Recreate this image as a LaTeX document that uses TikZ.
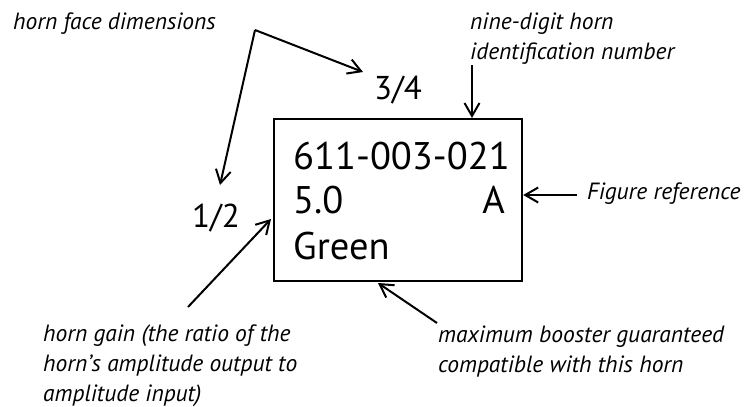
\documentclass[tikz,border=0pt]{standalone}
\usepackage{fontspec}
\setmainfont{PT Sans}
\usetikzlibrary{arrows.meta}
\begin{document}
\begin{tikzpicture}[x=1pt,y=-1pt,
  lbl/.style={inner sep=0pt,anchor=base west,align=left,
    font=\fontsize{23.5}{30}\selectfont\itshape},
  big/.style={inner sep=0pt,anchor=base west,font=\fontsize{38.5}{46}\selectfont},
  frac/.style={inner sep=0pt,anchor=base west,font=\fontsize{33}{40}\selectfont},
  arr/.style={line width=2pt,-{Straight Barb[length=13pt,width=15pt,line width=2pt]}},
  plain/.style={line width=2pt}]
\useasboundingbox (0,0) rectangle (748,407);
% box
\node[draw,line width=2.2pt,inner sep=0pt,minimum width=248pt,minimum height=162pt,anchor=north west] (box) at (273,118) {};
\node[big] (num) at (293,169) {611-003-021};
\node[big] (gain) at (293,213) {5.0};
\node[big,anchor=base east] (fig) at (505,213) {A};
\node[big] (col) at (293,259) {Green};
% fractions
\node[frac] (f34) at (374,99) {3/4};
\node[frac] (f12) at (192,227) {1/2};
% labels (base anchor = baseline of the last line)
\node[lbl] (face) at (13,29) {horn face dimensions};
\node[lbl] (nine) at (470,59) {nine-digit horn\\identification number};
\node[lbl] (figref) at (587,199) {Figure reference};
\node[lbl] (horngain) at (43,401) {horn gain (the ratio of the\\horn’s amplitude output to\\amplitude input)};
\node[lbl] (boost) at (438,372) {maximum booster guaranteed\\compatible with this horn};
% connector coordinates
\coordinate (v) at (255,30);
\coordinate (t34) at (363,72);
\coordinate (t12) at (220,185);
\coordinate (n1) at (472,65);
\coordinate (r1) at (577,195);
\coordinate (g1) at (188,307);
\coordinate (g2) at (271,219);
\coordinate (b1) at (437,323);
\coordinate (b2) at (378,283);
% connectors
\draw[arr] (v) -- (t34);
\draw[arr] (v) -- (t12);
\draw[arr] (n1) -- (n1 |- box.north);
\draw[arr] (r1) -- (r1 -| box.east);
\draw[arr] (g1) -- (g2);
\draw[arr] (b1) -- (b2);
\end{tikzpicture}
\end{document}
